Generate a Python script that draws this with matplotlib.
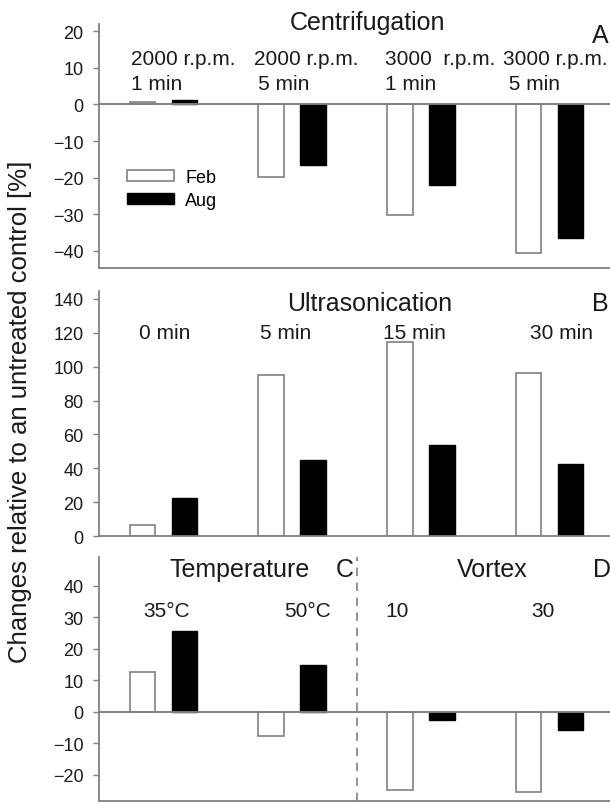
import numpy as np
import matplotlib
matplotlib.use("Agg")
import matplotlib.pyplot as plt
from matplotlib.patches import Patch

plt.rcParams['font.family'] = ['Liberation Sans', 'DejaVu Sans']

# ---------------- data ----------------
series = ["Feb", "Aug"]

centrif_labels = ["2000 r.p.m.\n1 min", "2000 r.p.m.\n\u20095 min", "3000  r.p.m.\n1 min", "3000 r.p.m.\n 5 min"]
centrif_feb = [0.8, -19.8, -30.1, -40.5]
centrif_aug = [1.3, -16.5, -22.1, -36.5]

ultra_labels = ["0 min", "5 min", "15 min", "30 min"]
ultra_feb = [6.3, 95.0, 114.4, 96.5]
ultra_aug = [22.6, 45.0, 54.0, 42.3]

tv_labels = ["35°C", "50°C", "10", "30"]
tv_feb = [12.5, -7.8, -24.8, -25.4]
tv_aug = [25.7, 14.9, -2.6, -5.7]

ticksA = [-40, -30, -20, -10, 0, 10, 20]
ticksB = [0, 20, 40, 60, 80, 100, 120, 140]
ticksC = [-20, -10, 0, 10, 20, 30, 40]

# ---------------- layout / style ----------------
GRAY = '#808080'
TXT = '#1a1a1a'
W = 515 / 610
L = 99 / 610
bw = 0.198
off = 0.163
x = np.arange(4)

fig = plt.figure(figsize=(6.10, 8.03), dpi=100)
axA = fig.add_axes([L, 1 - 269 / 803, W, (269 - 25) / 803])
axB = fig.add_axes([L, 1 - 537 / 803, W, (537 - 292) / 803])
axC = fig.add_axes([L, 1 - 802 / 803, W, (802 - 558) / 803])


def style(ax, ylim, ticks):
    ax.set_xlim(-0.5, 3.5)
    ax.set_ylim(*ylim)
    ax.set_yticks(ticks)
    for s in ['top', 'right']:
        ax.spines[s].set_visible(False)
    for s in ['left', 'bottom']:
        ax.spines[s].set_color(GRAY)
        ax.spines[s].set_linewidth(1.3)
    ax.set_xticks([])
    ax.tick_params(axis='y', length=4, width=1.0, color=GRAY, pad=7,
                   labelsize=13, labelcolor=TXT)


def bars(ax, feb, aug):
    ax.bar(x - off, feb, width=bw, facecolor='white', edgecolor=GRAY,
           linewidth=1.2, zorder=2)
    ax.bar(x + off, aug, width=bw, facecolor='black', edgecolor='black',
           linewidth=1.0, zorder=2)


# Panel A
style(axA, (-44.7, 22), ticksA)
bars(axA, centrif_feb, centrif_aug)
axA.axhline(0, color=GRAY, lw=1.4, zorder=3)
axA.text(0.522, 1.01, "Centrifugation", transform=axA.transAxes, ha='center',
         va='center', fontsize=18, color=TXT)
axA.text(0.957, 0.955, "A", transform=axA.transAxes, ha='left', va='center',
         fontsize=18, color=TXT)
labx_A = [-0.252, 0.703, 1.722, 2.638]
for xi, lab in zip(labx_A, centrif_labels):
    axA.text(xi, 9.2, lab, ha='left', va='center', fontsize=15, color=TXT,
             linespacing=1.42)
axA.legend(handles=[Patch(facecolor='white', edgecolor=GRAY, lw=1.2, label=series[0]),
                    Patch(facecolor='black', edgecolor='black', label=series[1])],
           loc='center left', bbox_to_anchor=(0.055, 0.324), frameon=False,
           fontsize=13, handlelength=2.6, handleheight=0.55, labelspacing=0.36,
           handletextpad=0.6, borderpad=0, borderaxespad=0)

# Panel B
style(axB, (0, 144.7), ticksB)
bars(axB, ultra_feb, ultra_aug)
axB.text(0.526, 0.953, "Ultrasonication", transform=axB.transAxes, ha='center',
         va='center', fontsize=18, color=TXT)
axB.text(0.957, 0.953, "B", transform=axB.transAxes, ha='left', va='center',
         fontsize=18, color=TXT)
labx_B = [0.013, 0.953, 1.948, 3.09]
for xi, lab in zip(labx_B, ultra_labels):
    axB.text(xi, 120.4, lab, ha='center', va='center', fontsize=15, color=TXT)

# Panel C / D
style(axC, (-28.3, 49.1), ticksC)
bars(axC, tv_feb, tv_aug)
axC.axhline(0, color=GRAY, lw=1.4, zorder=3)
axC.axvline(1.5, color=GRAY, lw=1.2, ls=(0, (5, 4)), zorder=1)
ty = (802 - 570) / 244
axC.text((240 - 99) / 515, ty, "Temperature", transform=axC.transAxes,
         ha='center', va='center', fontsize=18, color=TXT)
axC.text((336 - 99) / 515, ty, "C", transform=axC.transAxes,
         ha='left', va='center', fontsize=18, color=TXT)
axC.text((492 - 99) / 515, ty, "Vortex", transform=axC.transAxes,
         ha='center', va='center', fontsize=18, color=TXT)
axC.text((593 - 99) / 515, ty, "D", transform=axC.transAxes,
         ha='left', va='center', fontsize=18, color=TXT)
labx_C = [0.028, 1.116, 1.816, 2.95]
for xi, lab in zip(labx_C, tv_labels):
    axC.text(xi, 32.2, lab, ha='center', va='center', fontsize=15, color=TXT)

fig.text(20 / 610, 1 - 412 / 803, "Changes relative to an untreated control [%]",
         rotation=90, ha='center', va='center', fontsize=18.5, color=TXT)

fig.savefig("out.png", dpi=100)
